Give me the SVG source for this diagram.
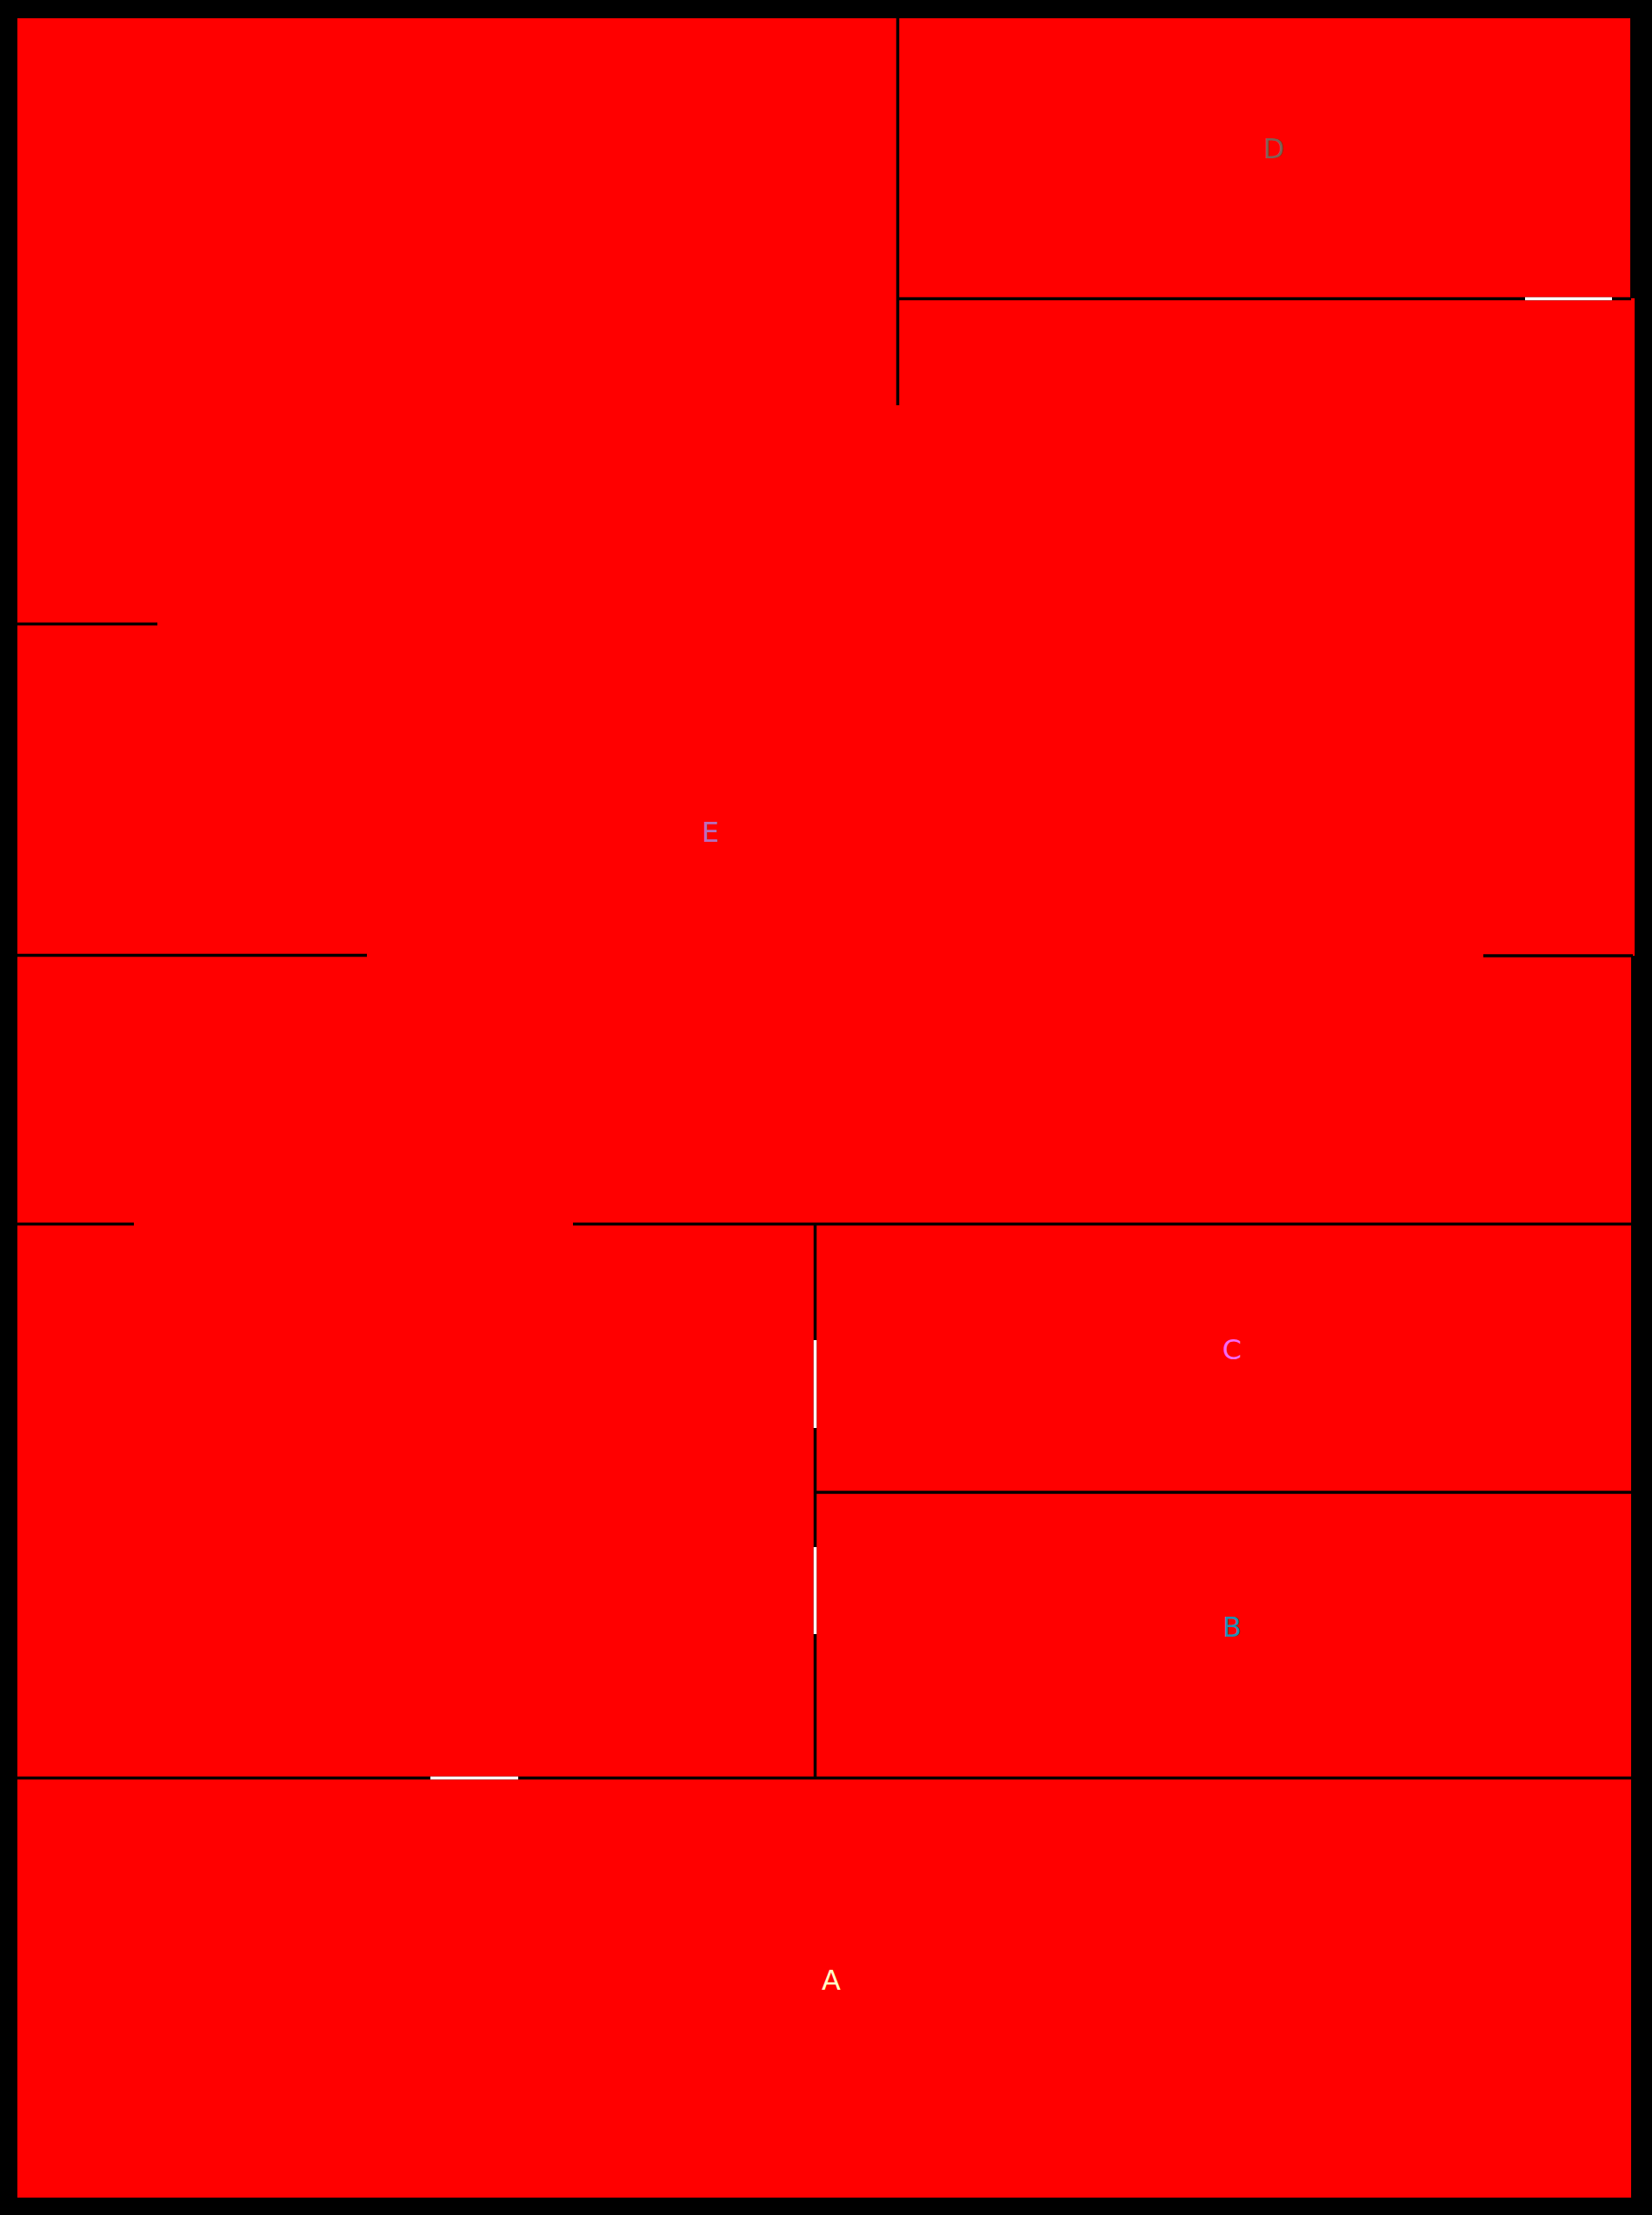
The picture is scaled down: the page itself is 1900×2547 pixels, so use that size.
<svg xmlns="http://www.w3.org/2000/svg" width="1900" height="2547" viewBox="0 0 1900 2547">
<style>
.room{fill:#ff0000;stroke:none}
.wall{stroke:#000000;stroke-width:3.5;fill:none}
.door{stroke:#ffffff;stroke-width:3.5;fill:none}
.lbl{font-family:"DejaVu Sans","Liberation Sans",sans-serif;font-size:32px;text-anchor:middle}
</style>
<rect x="0" y="0" width="1900" height="2547" fill="#000000"/>
<g id="room-E">
<polygon class="room" points="20,21 1033,21 1033,343 1880,343 1880,1099 1876,1099 1876,1408 937,1408 937,2044 20,2044"/>
<text class="lbl" x="817" y="968" fill="#b56fbd">E</text>
</g>
<g id="room-D">
<rect class="room" x="1033" y="21" width="842" height="322"/>
<text class="lbl" x="1465" y="182" fill="#7f5f55">D</text>
</g>
<g id="room-C">
<rect class="room" x="937" y="1408" width="939" height="308"/>
<text class="lbl" x="1417" y="1563" fill="#f46af4">C</text>
</g>
<g id="room-B">
<rect class="room" x="937" y="1716" width="939" height="328"/>
<text class="lbl" x="1417" y="1882" fill="#1e8fb3">B</text>
</g>
<g id="room-A">
<rect class="room" x="20" y="2044" width="1856" height="483"/>
<text class="lbl" x="956" y="2288" fill="#ffffc8">A</text>
</g>
<g id="walls">
<line class="wall" x1="1032.5" y1="20" x2="1032.5" y2="466"/>
<line class="wall" x1="1033" y1="343.5" x2="1876" y2="343.5"/>
<line class="door" x1="1754" y1="343.5" x2="1854" y2="343.5"/>
<line class="wall" x1="20" y1="717.5" x2="181" y2="717.5"/>
<line class="wall" x1="20" y1="1098.5" x2="422" y2="1098.5"/>
<line class="wall" x1="1706" y1="1099" x2="1878" y2="1099"/>
<line class="wall" x1="20" y1="1407.5" x2="154" y2="1407.5"/>
<line class="wall" x1="659" y1="1407.5" x2="1876" y2="1407.5"/>
<line class="wall" x1="937.5" y1="1406" x2="937.5" y2="2045"/>
<line class="door" x1="937.5" y1="1541" x2="937.5" y2="1642"/>
<line class="door" x1="937.5" y1="1779" x2="937.5" y2="1879"/>
<line class="wall" x1="937" y1="1716" x2="1876" y2="1716"/>
<line class="wall" x1="20" y1="2044.5" x2="1876" y2="2044.5"/>
<line class="door" x1="495" y1="2044.5" x2="596" y2="2044.5"/>
</g>
</svg>
